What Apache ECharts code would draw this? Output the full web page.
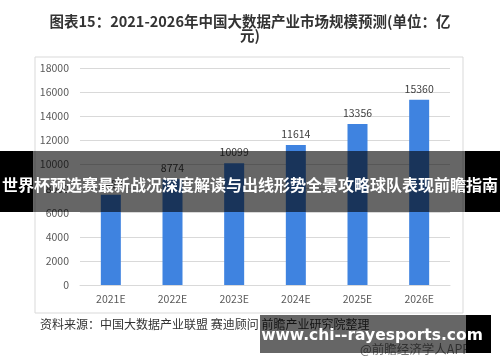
<!DOCTYPE html>
<html><head><meta charset="utf-8">
<script src="https://cdn.jsdelivr.net/npm/echarts@6/dist/echarts.min.js"></script>
<style>html,body{margin:0;padding:0;background:#fff}#c{width:500px;height:362px}</style>
</head><body><div id="c"></div>
<script>
const categories = ['2021E','2022E','2023E','2024E','2025E','2026E'];
const values = [7480, 8774, 10099, 11614, 13356, 15360];
const yTicks = [0,2000,4000,6000,8000,10000,12000,14000,16000,18000];
const titleText = '图表15：2021-2026年中国大数据产业市场规模预测(单位：亿\n元)';
const bannerText = '世界杯预选赛最新战况深度解读与出线形势全景攻略球队表现前瞻指南';
const sourceText = '资料来源：中国大数据产业联盟 赛迪顾问 前瞻产业研究院整理';
const siteText = 'www.chi--rayesports.com';
const appText = '@前瞻经济学人APP';
const F = '"Noto Sans CJK SC", "Noto Sans", sans-serif';

const chart = echarts.init(document.getElementById('c'));
chart.setOption({
  backgroundColor:'#fff',
  animation:false,
  title:{text:titleText,left:'center',top:9,
    textStyle:{fontFamily:F,fontSize:14.5,fontWeight:'bold',color:'#333',lineHeight:14}},
  grid:{left:80,right:50,top:68,bottom:77},
  xAxis:{type:'category',data:categories,
    axisLine:{lineStyle:{color:'#d9d9d9'}},axisTick:{show:false},
    axisLabel:{color:'#595959',fontFamily:F,fontSize:10.5,margin:9}},
  yAxis:{type:'value',min:yTicks[0],max:yTicks[yTicks.length-1],interval:yTicks[1]-yTicks[0],
    axisLine:{show:false},axisTick:{show:false},
    splitLine:{lineStyle:{color:'#d9d9d9'}},
    axisLabel:{color:'#595959',fontFamily:F,fontSize:10.5,margin:11,formatter:v=>String(v)}},
  series:[{type:'bar',data:values,barWidth:20,
    itemStyle:{color:'#3F83E0'},
    label:{show:true,position:'top',color:'#404040',fontFamily:F,fontSize:10.5,distance:6}}],
  graphic:[
    {type:'rect',z:-1,shape:{x:35,y:57,width:428,height:256},style:{fill:'none',stroke:'#d9d9d9',lineWidth:1}},
    {type:'text',z:100,left:40,top:318,style:{text:sourceText,fill:'#333',font:'12px '+F}},
    {type:'text',z:100,left:360,top:343,style:{text:appText,fill:'#777',font:'12.5px '+F}},
    {type:'rect',z:110,shape:{x:0,y:151,width:33,height:61},style:{fill:'#000'}},
    {type:'rect',z:110,shape:{x:33,y:151,width:432,height:61},style:{fill:'rgba(0,0,0,0.6)'}},
    {type:'rect',z:110,shape:{x:465,y:151,width:35,height:61},style:{fill:'#000'}},
    {type:'text',z:120,x:250,y:185,style:{text:bannerText,fill:'#fff',font:'bold 16px '+F,textAlign:'center',textVerticalAlign:'middle'}},
    {type:'rect',z:110,shape:{x:260,y:315,width:206,height:38},style:{fill:'rgba(0,0,0,0.6)'}},
    {type:'rect',z:110,shape:{x:466,y:315,width:25,height:38},style:{fill:'#000'}},
    {type:'text',z:120,x:372,y:336,style:{text:siteText,fill:'#fff',font:'bold 15.5px "DejaVu Sans", sans-serif',textAlign:'center',textVerticalAlign:'middle'}}
  ]
});
</script></body></html>
